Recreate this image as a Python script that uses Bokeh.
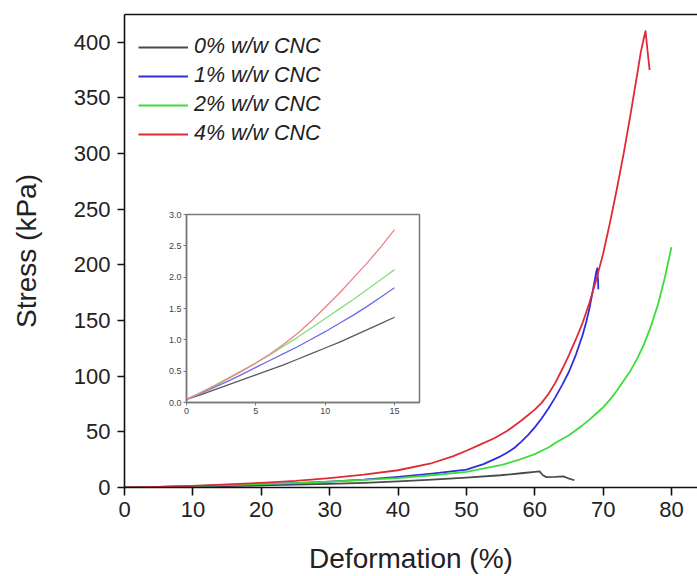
from bokeh.plotting import figure
from bokeh.models import FixedTicker, LinearAxis, Legend, LegendItem, PrintfTickFormatter
from bokeh.embed import file_html
from bokeh.resources import INLINE

# ---- main stress–deformation curves -------------------------------------
labels = ["0% w/w CNC", "1% w/w CNC", "2% w/w CNC", "4% w/w CNC"]
colors = ["#4a4a4a", "#2f2fe0", "#3cdc3c", "#e02a36"]

x_cnc0 = [0, 5, 10, 15, 20, 25, 30, 35, 40, 45, 50, 55, 58, 60, 60.7, 61.2, 61.7, 63, 64.2, 64.8, 65.8]
y_cnc0 = [0, 0.44, 0.87, 1.36, 1.9, 2.5, 3.2, 4.2, 5.5, 7, 8.8, 11, 12.8, 14, 14.5, 11, 9.3, 9.5, 10, 8.5, 6.5]

x_cnc1 = [0, 5, 10, 15, 20, 25, 30, 35, 40, 45, 50, 52.5, 55, 56, 57, 58, 59, 60, 61, 62, 63, 64, 65,
          66, 67, 67.5, 68, 68.5, 69, 69.15, 69.25, 69.3]
y_cnc1 = [0, 0.56, 1.13, 1.83, 2.7, 3.8, 5.2, 7, 9.5, 12.5, 16, 21, 28, 31.5, 35.5, 41, 47, 54, 62, 71, 81, 92, 104,
          119, 137, 148, 161, 177, 194, 197, 186, 178]

x_cnc2 = [0, 5, 10, 15, 20, 25, 30, 35, 40, 45, 50, 55, 57.5, 60, 61, 62, 63, 64, 65, 66, 67, 68, 69, 70,
          71, 72, 73, 74, 75, 76, 77, 78, 79, 80]
y_cnc2 = [0, 0.63, 1.34, 2.12, 3, 4, 5.2, 6.8, 8.5, 11, 14, 20, 24.5, 30, 33, 36, 40, 43.5, 47, 51.5, 56, 61, 66.5, 72,
          79, 87, 96, 105, 116, 129, 145, 164, 188, 216]

x_cnc4 = [0, 5, 10, 15, 20, 25, 30, 35, 40, 45, 48, 50, 52, 54, 56, 58, 60, 61, 62, 63, 64, 65, 66, 67, 68, 69,
          70, 71, 72, 73, 74, 75, 75.5, 76, 76.2, 76.5, 76.8]
y_cnc4 = [0, 0.63, 1.52, 2.76, 4.2, 6, 8.5, 11.5, 15.5, 22, 28, 33, 38.5, 44, 51, 60, 70, 76, 84, 94, 106, 119, 133,
          148, 166, 187, 210, 238, 268, 300, 335, 372, 391, 405, 410, 392, 375]

x_ticks = [0, 10, 20, 30, 40, 50, 60, 70, 80]
y_ticks = [0, 50, 100, 150, 200, 250, 300, 350, 400]

# ---- inset: initial region (0–15 %) --------------------------------------
inset_colors = ["#5a5a5a", "#6c6ce6", "#82e07a", "#ee8088"]
inset_x = [0, 1, 2, 3, 4, 5, 6, 7, 8, 9, 10, 11, 12, 13, 14, 15]
inset_cnc0 = [0.05, 0.12, 0.2, 0.28, 0.36, 0.44, 0.52, 0.6, 0.69, 0.78, 0.87, 0.96, 1.06, 1.16, 1.26, 1.36]
inset_cnc1 = [0.05, 0.14, 0.24, 0.34, 0.45, 0.56, 0.67, 0.78, 0.89, 1.01, 1.13, 1.26, 1.39, 1.53, 1.68, 1.83]
inset_cnc2 = [0.05, 0.16, 0.27, 0.39, 0.51, 0.63, 0.76, 0.9, 1.04, 1.19, 1.34, 1.49, 1.64, 1.80, 1.96, 2.12]
inset_cnc4 = [0.05, 0.15, 0.26, 0.38, 0.5, 0.63, 0.77, 0.93, 1.1, 1.3, 1.52, 1.74, 1.98, 2.22, 2.48, 2.76]
inset_x_ticks = [0, 5, 10, 15]
inset_y_ticks = [0.0, 0.5, 1.0, 1.5, 2.0, 2.5, 3.0]

FONT = "Liberation Sans"

p = figure(width=697, height=576, x_range=(0, 83.8), y_range=(0, 425),
           output_backend="svg", toolbar_location=None,
           min_border_left=124, min_border_right=0, min_border_top=14, min_border_bottom=89)
p.outline_line_color = None
p.grid.visible = False
p.background_fill_color = "white"
p.border_fill_color = "white"

for ax in (p.xaxis[0], p.yaxis[0]):
    ax.axis_line_width = 1.6
    ax.axis_line_color = "#111111"
    ax.major_tick_line_width = 1.6
    ax.major_tick_line_color = "#111111"
    ax.minor_tick_line_color = None
    ax.major_tick_in = 0
    ax.major_label_text_font = FONT
    ax.major_label_text_font_size = "22px"
    ax.major_label_text_color = "#222222"
    ax.axis_label_text_font = FONT
    ax.axis_label_text_font_size = "28px"
    ax.axis_label_text_font_style = "normal"
    ax.axis_label_text_color = "#222222"

p.xaxis[0].ticker = FixedTicker(ticks=x_ticks)
p.yaxis[0].ticker = FixedTicker(ticks=y_ticks)
p.xaxis[0].major_tick_out = 8
p.yaxis[0].major_tick_out = 7
p.xaxis[0].major_label_standoff = 6
p.yaxis[0].major_label_standoff = 7
p.xaxis[0].axis_label = "Deformation (%)"
p.yaxis[0].axis_label = "Stress (kPa)"
p.xaxis[0].axis_label_standoff = 23
p.yaxis[0].axis_label_standoff = 29

# top frame line: an axis with no ticks and no labels
top = LinearAxis(ticker=FixedTicker(ticks=[]), major_tick_line_color=None, minor_tick_line_color=None,
                 axis_line_width=1.6, axis_line_color="#111111")
p.add_layout(top, "above")

series = [(x_cnc0, y_cnc0), (x_cnc1, y_cnc1), (x_cnc2, y_cnc2), (x_cnc4, y_cnc4)]
renderers = []
for (xs, ys), c in zip(series, colors):
    renderers.append(p.line(xs, ys, line_color=c, line_width=1.8, line_join="round"))

legend = Legend(items=[LegendItem(label=l, renderers=[r]) for l, r in zip(labels, renderers)],
                location=(14, 341), padding=0, margin=0, spacing=4,
                glyph_width=50, glyph_height=22, label_height=22, label_standoff=6,
                label_text_font=FONT, label_text_font_size="21.5px", label_text_font_style="italic",
                label_text_color="#222222", border_line_color=None, background_fill_alpha=0)
p.add_layout(legend)

# ---- inset figure ----------------------------------------------------------
inset = figure(width=263, height=214, x_range=(0, 16.8), y_range=(0, 3.0),
               output_backend="svg", toolbar_location=None,
               min_border_left=26, min_border_right=4, min_border_top=6, min_border_bottom=20)
inset.grid.visible = False
inset.outline_line_color = "#7a7a7a"
inset.outline_line_width = 1.5
for ax in (inset.xaxis[0], inset.yaxis[0]):
    ax.axis_line_color = "#7a7a7a"
    ax.axis_line_width = 1.5
    ax.major_tick_line_color = "#7a7a7a"
    ax.major_tick_in = 0
    ax.major_tick_out = 3
    ax.minor_tick_line_color = None
    ax.major_label_standoff = 2
    ax.major_label_text_font = FONT
    ax.major_label_text_font_size = "9px"
    ax.major_label_text_color = "#444444"
inset.xaxis[0].ticker = FixedTicker(ticks=inset_x_ticks)
inset.yaxis[0].ticker = FixedTicker(ticks=inset_y_ticks)
inset.yaxis[0].formatter = PrintfTickFormatter(format="%.1f")

for ys, c in zip([inset_cnc0, inset_cnc1, inset_cnc2, inset_cnc4], inset_colors):
    inset.line(inset_x, ys, line_color=c, line_width=1.3)

inset.styles = {"position": "absolute", "left": "160px", "top": "208px"}

open("out.html", "w").write(file_html([p, inset], INLINE))
